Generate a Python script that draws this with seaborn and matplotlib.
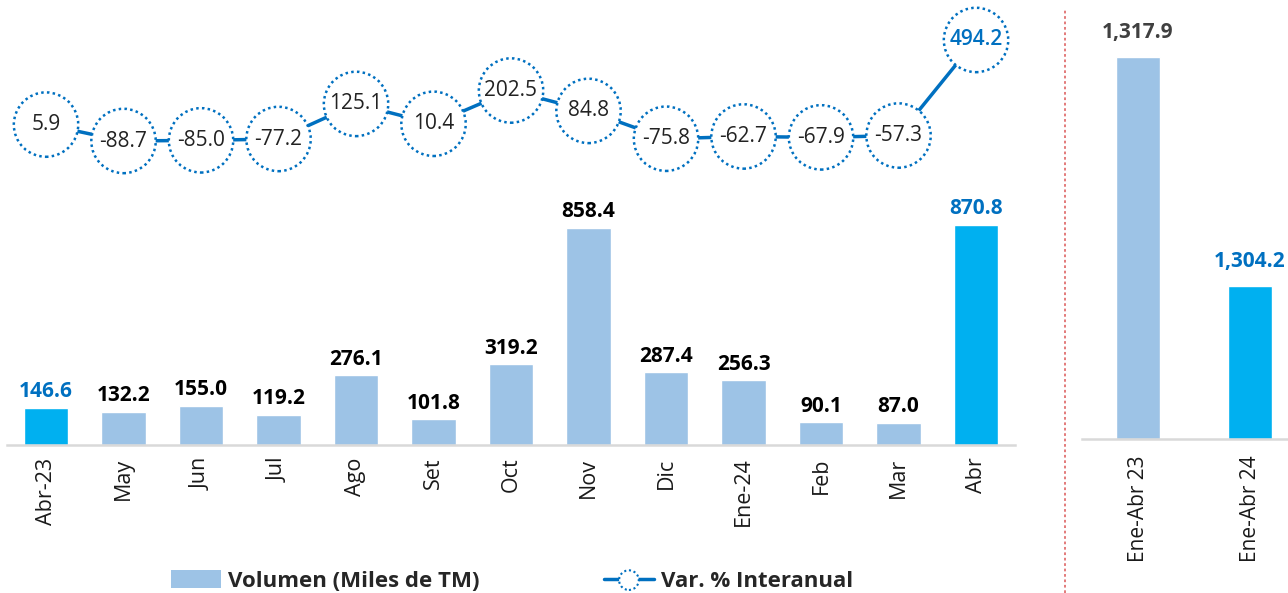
import numpy as np
import pandas as pd
import matplotlib
matplotlib.use("Agg")
import matplotlib.pyplot as plt
from matplotlib.lines import Line2D
from matplotlib.patches import Patch
from matplotlib.legend_handler import HandlerTuple
import seaborn as sns

# --- data ---
months = ["Abr-23", "May", "Jun", "Jul", "Ago", "Set", "Oct", "Nov", "Dic",
          "Ene-24", "Feb", "Mar", "Abr"]
volumen = [146.6, 132.2, 155.0, 119.2, 276.1, 101.8, 319.2, 858.4, 287.4,
           256.3, 90.1, 87.0, 870.8]
var_pct = [5.9, -88.7, -85.0, -77.2, 125.1, 10.4, 202.5, 84.8, -75.8,
           -62.7, -67.9, -57.3, 494.2]
ytd_periods = ["Ene-Abr 23", "Ene-Abr 24"]
ytd_values = [1317.9, 1304.2]   # printed labels
ytd_heights = [1317.9, 528.0]   # bar heights as drawn in the reference

LIGHT = "#9DC3E6"
HIGH = "#00B0F0"
BLUE = "#0070C0"

sns.set_style("white")
plt.rcParams["font.family"] = ["Open Sans", "DejaVu Sans"]

W, H = 1288, 593
fig = plt.figure(figsize=(W / 100, H / 100), dpi=100)

# ---- left panel: monthly volumes + yoy variation ----
ax = fig.add_axes([7.25 / W, 148 / H, 1007.5 / W, 445 / H])
df = pd.DataFrame({"mes": months, "vol": volumen})
bar_colors = [HIGH if i in (0, len(months) - 1) else LIGHT for i in range(len(months))]
sns.barplot(data=df, x="mes", y="vol", hue="mes", palette=bar_colors,
            legend=False, width=0.57, saturation=1, ax=ax)
ax.set_xlim(-0.5, len(months) - 0.5)
ax.set_ylim(0, 1760)
for i, v in enumerate(volumen):
    c = BLUE if i in (0, len(months) - 1) else "black"
    ax.annotate(f"{v:,.1f}", (i, v), xytext=(0, 4), textcoords="offset points",
                ha="center", va="bottom", fontsize=15, fontweight="bold", color=c)
ax.set_xlabel("")
ax.set_ylabel("")
ax.set_yticks([])
ax.tick_params(axis="x", length=0, pad=9, labelsize=15.5, labelrotation=90,
               labelcolor="#1a1a1a")
for s in ["top", "right", "left"]:
    ax.spines[s].set_visible(False)
ax.spines["bottom"].set_color("#D9D9D9")
ax.spines["bottom"].set_linewidth(1.8)

ax2 = ax.twinx()
x_pos = np.arange(len(months))
sns.lineplot(x=x_pos, y=var_pct, color=BLUE, linewidth=2.5, ax=ax2, zorder=2)
ax2.scatter(x_pos, var_pct, s=2150, facecolor="white", edgecolor=BLUE,
            linewidths=1.8, linestyle=(0, (1, 1.3)), zorder=3, clip_on=False)
ax2.set_ylim(-1843, 725)
for i, v in enumerate(var_pct):
    last = i == len(var_pct) - 1
    ax2.text(i, v, f"{v:.1f}", ha="center", va="center", fontsize=15,
             color=BLUE if last else "#222222",
             fontweight="semibold" if last else "normal", zorder=4)
ax2.set_yticks([])
ax2.set_ylabel("")
for s in ax2.spines.values():
    s.set_visible(False)

# ---- right panel: year-to-date totals ----
axr = fig.add_axes([1082 / W, 154 / H, 224 / W, 439 / H])
dfr = pd.DataFrame({"periodo": ytd_periods, "vol": ytd_heights})
sns.barplot(data=dfr, x="periodo", y="vol", hue="periodo", palette=[LIGHT, HIGH],
            legend=False, width=0.39, saturation=1, ax=axr)
axr.set_xlim(-0.5, 1.5)
axr.set_ylim(0, 1514.6)
for i, (h, v) in enumerate(zip(ytd_heights, ytd_values)):
    axr.annotate(f"{v:,.1f}", (i, h), xytext=(0, 10), textcoords="offset points",
                 ha="center", va="bottom", fontsize=15, fontweight="bold",
                 color="#404040" if i == 0 else BLUE, annotation_clip=False)
axr.set_xlabel("")
axr.set_ylabel("")
axr.set_yticks([])
axr.tick_params(axis="x", length=0, pad=12, labelsize=15, labelrotation=90,
                labelcolor="#1a1a1a")
for s in ["top", "right", "left"]:
    axr.spines[s].set_visible(False)
axr.spines["bottom"].set_color("#D9D9D9")
axr.spines["bottom"].set_linewidth(1.8)

# dotted separator between panels
fig.add_artist(Line2D([1065 / W, 1065 / W], [0, 585 / H], transform=fig.transFigure,
                      color="#E07070", linewidth=1.3, linestyle=(0, (1.5, 1.5))))

# ---- legend ----
bar_handle = Patch(facecolor=LIGHT, edgecolor="none")
line_handle = Line2D([], [], color=BLUE, linewidth=2.5)
circ_handle = ax2.scatter([], [], s=200, facecolor="white", edgecolor=BLUE,
                          linewidths=1.5, linestyle=(0, (1, 1.3)))
fig.legend([bar_handle, (line_handle, circ_handle)],
           ["Volumen (Miles de TM)", "Var. % Interanual"],
           handler_map={tuple: HandlerTuple(ndivide=1, pad=0)},
           loc="center", bbox_to_anchor=(512 / W, 12 / H), ncol=2, frameon=False,
           prop={"size": 16, "weight": "bold"}, handlelength=2.25,
           handleheight=0.85, handletextpad=0.3, columnspacing=5.6)

fig.savefig("out.png", dpi=100)
